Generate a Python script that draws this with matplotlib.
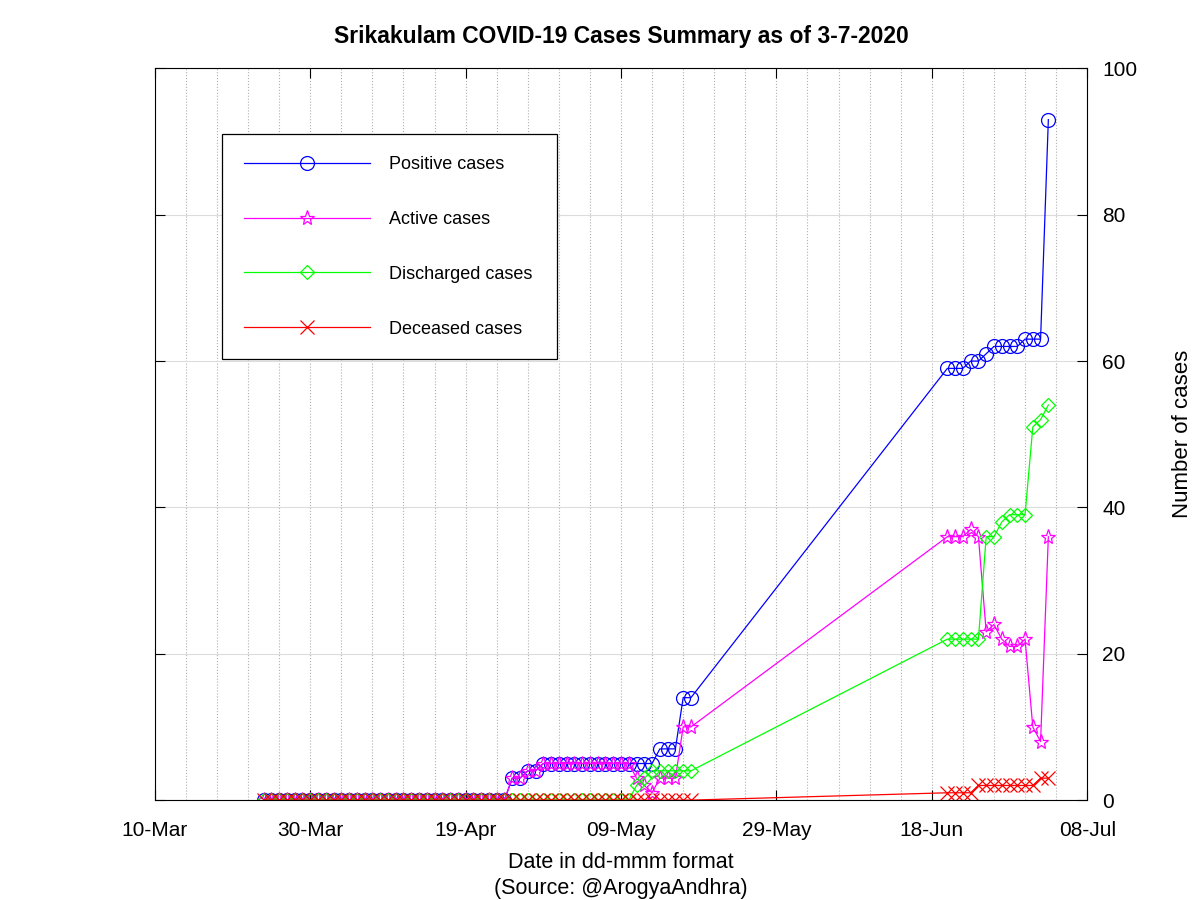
import numpy as np
import pandas as pd
import matplotlib
matplotlib.use("Agg")
import matplotlib.pyplot as plt
import matplotlib.dates as mdates
from matplotlib.ticker import MultipleLocator, FixedLocator

plt.rcParams['font.family'] = ['Liberation Sans', 'DejaVu Sans']

# reporting days: 24-Mar..18-May, then 20-Jun..03-Jul
dates = list(pd.date_range("2020-03-24", "2020-05-18")) + list(pd.date_range("2020-06-20", "2020-07-03"))

positive = [0] * 32 + [3, 3, 4, 4] + [5] * 15 + [7, 7, 7, 14, 14] + \
    [59, 59, 59, 60, 60, 61, 62, 62, 62, 62, 63, 63, 63, 93]
active = [0] * 32 + [3, 3, 4, 4] + [5] * 12 + [3, 2, 1, 3, 3, 3, 10, 10] + \
    [36, 36, 36, 37, 36, 23, 24, 22, 21, 21, 22, 10, 8, 36]
discharged = [0] * 48 + [2, 3, 4, 4, 4, 4, 4, 4] + \
    [22, 22, 22, 22, 22, 36, 36, 38, 39, 39, 39, 51, 52, 54]
deceased = [0] * 56 + [1, 1, 1, 1, 2, 2, 2, 2, 2, 2, 2, 2, 3, 3]

x_ticks = pd.date_range("2020-03-10", "2020-07-08", freq="20D")
x_minor = pd.date_range("2020-03-10", "2020-07-08", freq="4D")

fig = plt.figure(figsize=(12, 9), dpi=100)
ax = fig.add_axes([0.129, 0.111, 0.777, 0.813])

ax.plot(dates, positive, color='#0000ff', lw=0.9, marker='o', ms=10, mfc='none', mew=0.9, label='Positive cases')
ax.plot(dates, active, color='#ff00ff', lw=0.9, marker='*', ms=11, mfc='none', mew=0.9, label='Active cases')
ax.plot(dates, discharged, color='#00ff00', lw=0.9, marker='D', ms=7.5, mfc='none', mew=0.9, label='Discharged cases')
ax.plot(dates, deceased, color='#ff0000', lw=0.9, marker='x', ms=10, mew=0.9, label='Deceased cases')

ax.set_xlim(pd.Timestamp("2020-03-10"), pd.Timestamp("2020-07-08"))
ax.set_ylim(0, 100)
ax.set_xticks(x_ticks)
ax.xaxis.set_major_formatter(mdates.DateFormatter('%d-%b'))
ax.xaxis.set_minor_locator(FixedLocator(mdates.date2num(x_minor)))
ax.yaxis.set_major_locator(MultipleLocator(20))

ax.yaxis.tick_right()
ax.yaxis.set_label_position('right')
ax.tick_params(axis='both', which='major', direction='in', length=7, labelsize=15,
               top=True, bottom=True, left=True, right=True)
ax.tick_params(axis='x', which='minor', length=0)
ax.tick_params(axis='x', pad=15)
ax.tick_params(axis='y', pad=11)

ax.grid(True, axis='x', which='both', color='#b0b0b0', linestyle=':', lw=0.8)
ax.grid(True, axis='y', which='major', color='#dcdcdc', linestyle='-', lw=0.8)
ax.set_axisbelow(True)

ax.set_title('Srikakulam COVID-19 Cases Summary as of 3-7-2020', fontsize=16.5, fontweight='bold', pad=18)
ax.set_xlabel('Date in dd-mmm format\n(Source: @ArogyaAndhra)', fontsize=15.5, labelpad=9, linespacing=1.3)
ax.set_ylabel('Number of cases', fontsize=16, labelpad=25)

leg = ax.legend(loc='upper left', bbox_to_anchor=(0.072, 0.910, 0.359, 0.0), mode='expand',
                borderaxespad=0, fontsize=13, handlelength=7.0, labelspacing=2.1, borderpad=1.2,
                handletextpad=1.05, fancybox=False, edgecolor='black', framealpha=1)
leg.get_frame().set_linewidth(0.9)

fig.savefig('out.png', dpi=100)
